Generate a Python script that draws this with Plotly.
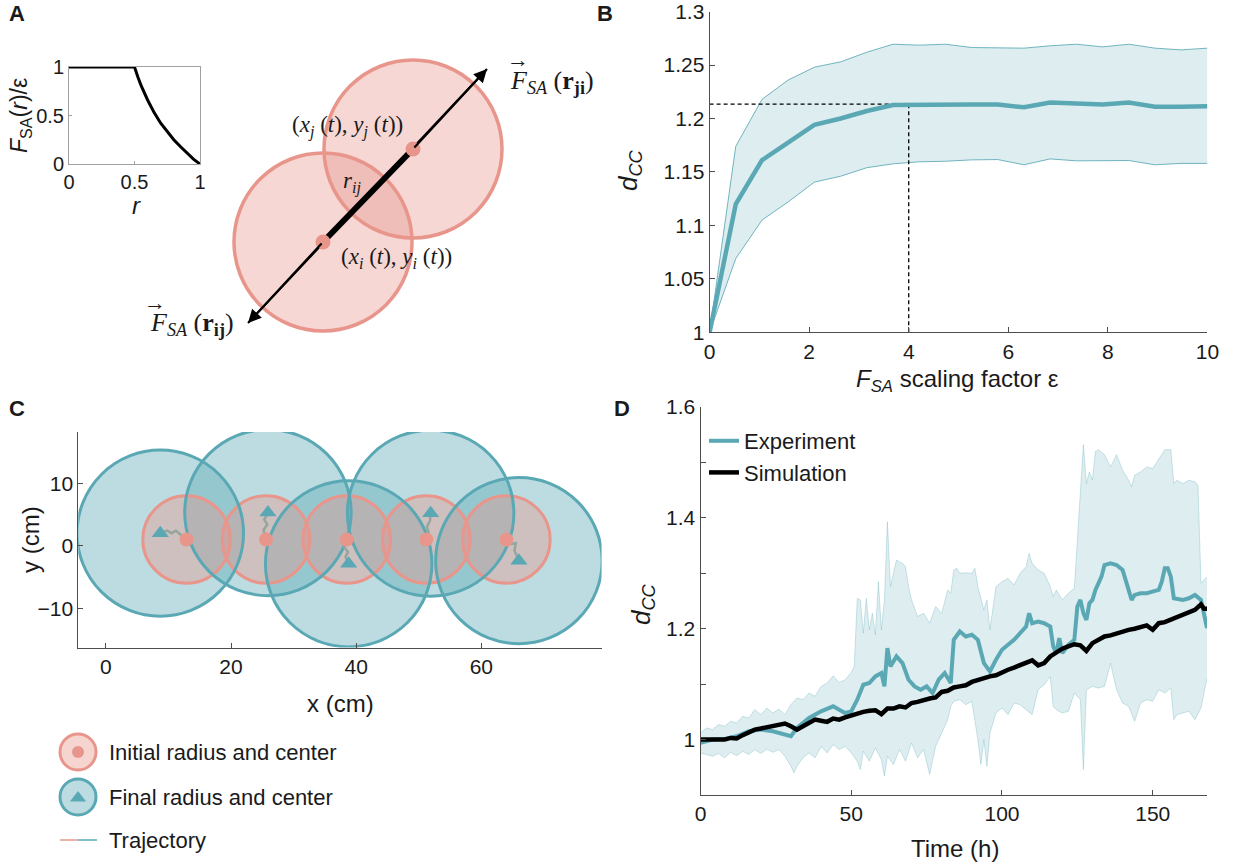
import plotly.graph_objects as go

W, H = 1236, 867
def px(x): return x / W
def py(y): return 1 - y / H

TEAL = "rgb(91,168,181)"
PINK = "rgb(232,150,140)"
TXT = "#1a1a1a"
AXC = "#4d4d4d"
SANS = "Liberation Sans, Arial, sans-serif"
SERIF = "Liberation Serif, Times New Roman, serif"

# ---------------- Panel A data ----------------
r_vals = [0, 0.5, 0.525, 0.55, 0.6, 0.65, 0.7, 0.75, 0.8, 0.85, 0.9, 0.95, 1.0]
F_vals = [1, 1, 0.9, 0.81, 0.66, 0.53, 0.42, 0.33, 0.25, 0.18, 0.11, 0.05, 0]
# schematic (diagram units)
cell_cx_A = [323, 413]
cell_cy_A = [242, 149]
cell_r_A = 89
arrow_x_A = [248, 487]
arrow_y_A = [323, 69]

# ---------------- Panel B data ----------------
eps = [0, 0.526, 1.053, 1.579, 2.105, 2.632, 3.158, 3.684, 4.211, 4.737,
       5.263, 5.789, 6.316, 6.842, 7.368, 7.895, 8.421, 8.947, 9.474, 10]
dcc_mean = [1.0, 1.120, 1.161, 1.178, 1.194, 1.200, 1.207, 1.2126, 1.213, 1.2135,
            1.213, 1.213, 1.2105, 1.215, 1.2145, 1.213, 1.215, 1.211, 1.211, 1.2115]
dcc_upper = [1.0, 1.174, 1.218, 1.236, 1.248, 1.253, 1.262, 1.2695, 1.2686, 1.2695,
             1.2664, 1.2658, 1.2658, 1.268, 1.2695, 1.267, 1.2695, 1.2658, 1.2642, 1.2658]
dcc_lower = [1.0, 1.069, 1.105, 1.122, 1.1405, 1.146, 1.154, 1.1576, 1.1595, 1.160,
             1.1613, 1.1616, 1.1567, 1.1622, 1.1604, 1.1604, 1.1607, 1.1567, 1.158, 1.158]
eps_opt = 4
dcc_opt = 1.2135
B_xticks = [0, 2, 4, 6, 8, 10]
B_yticks = [1, 1.05, 1.1, 1.15, 1.2, 1.25, 1.3]
B_yticktext = ["1", "1.05", "1.1", "1.15", "1.2", "1.25", "1.3"]

# ---------------- Panel C data ----------------
init_x = [12.9, 25.6, 38.5, 51.2, 64.0]
init_y = [1.0, 1.0, 1.0, 1.0, 1.0]
init_r = 7.0
final_x = [8.7, 25.9, 38.8, 51.9, 66.0]
final_y = [2.0, 5.3, -2.9, 5.2, -2.4]
final_r = 13.3
traj_x = [[12.9, 12.0, 11.2, 10.5, 9.8, 8.7],
          [25.6, 25.2, 25.8, 25.3, 25.7, 25.9],
          [38.5, 38.1, 38.7, 38.3, 38.8],
          [51.2, 51.6, 51.3, 51.8, 51.9],
          [64.0, 64.8, 65.5, 65.3, 66.0]]
traj_y = [[1.0, 1.8, 2.4, 2.0, 2.4, 2.0],
          [1.0, 2.5, 3.4, 4.2, 4.8, 5.3],
          [1.0, -0.3, -1.0, -1.8, -2.9],
          [1.0, 2.0, 3.0, 4.0, 5.2],
          [1.0, 0.3, 0.4, -0.8, -2.4]]
C_xticks = [0, 20, 40, 60]
C_yticks = [-10, 0, 10]

# ---------------- Panel D data ----------------
t_sim = [0, 2, 4, 6, 8, 10, 12, 14, 16, 18, 20, 22, 24, 26, 28, 30, 32, 34, 36, 38,
         40, 42, 44, 46, 48, 50, 52, 54, 56, 58, 60, 62, 64, 66, 68, 70, 72, 74, 76, 78,
         80, 82, 84, 86, 88, 90, 92, 94, 96, 98, 100, 102, 104, 106, 108, 110, 112, 114,
         116, 118, 120, 122, 124, 126, 128, 130, 132, 134, 136, 138, 140, 142, 144, 146,
         148, 150, 152, 154, 156, 158, 160, 162, 164, 166, 167, 168]
d_sim = [1.000, 1.000, 1.001, 1.002, 1.000, 1.003, 1.002, 1.008, 1.014, 1.018, 1.020,
         1.022, 1.023, 1.027, 1.029, 1.024, 1.018, 1.024, 1.030, 1.036, 1.034, 1.032,
         1.038, 1.036, 1.040, 1.044, 1.046, 1.050, 1.052, 1.053, 1.046, 1.056, 1.056,
         1.060, 1.058, 1.066, 1.068, 1.072, 1.074, 1.076, 1.086, 1.088, 1.094, 1.096,
         1.098, 1.104, 1.108, 1.110, 1.114, 1.116, 1.122, 1.126, 1.130, 1.134, 1.138,
         1.143, 1.134, 1.138, 1.150, 1.158, 1.164, 1.168, 1.172, 1.170, 1.160, 1.174,
         1.180, 1.186, 1.188, 1.192, 1.196, 1.198, 1.200, 1.204, 1.206, 1.198, 1.210,
         1.212, 1.216, 1.220, 1.224, 1.228, 1.234, 1.244, 1.236, 1.236]

t_exp = [0, 4, 8, 12, 16, 20, 24, 28, 30, 32, 34, 36, 40, 44, 46, 48, 50, 52, 54, 56,
         58, 60, 61, 62, 63, 65, 67, 69, 71, 73, 75, 77, 79, 81, 83, 84, 86, 88, 90, 92,
         94, 96, 98, 100, 102, 104, 106, 108, 109, 110, 112, 114, 116, 117, 118, 119, 120,
         122, 124, 125, 126, 127, 128, 129, 130, 131, 133, 134, 136, 138, 140, 141, 142,
         143, 144, 146, 148, 150, 152, 153, 154, 155, 156, 157, 160, 162, 164, 166, 167, 168]
d_exp = [0.994, 1.000, 1.001, 1.006, 1.015, 1.018, 1.015, 1.009, 1.006, 1.021, 1.031,
         1.039, 1.051, 1.060, 1.054, 1.048, 1.051, 1.072, 1.099, 1.102, 1.114, 1.120,
         1.096, 1.165, 1.132, 1.150, 1.138, 1.108, 1.096, 1.090, 1.096, 1.084, 1.108,
         1.120, 1.102, 1.180, 1.195, 1.186, 1.189, 1.180, 1.138, 1.123, 1.144, 1.162,
         1.171, 1.180, 1.192, 1.204, 1.228, 1.210, 1.213, 1.210, 1.204, 1.168, 1.156,
         1.183, 1.156, 1.171, 1.180, 1.240, 1.252, 1.228, 1.216, 1.246, 1.252, 1.270,
         1.294, 1.315, 1.318, 1.315, 1.306, 1.288, 1.270, 1.252, 1.261, 1.264, 1.264,
         1.267, 1.270, 1.285, 1.309, 1.309, 1.294, 1.255, 1.252, 1.255, 1.261, 1.252,
         1.222, 1.201]

t_up = [0, 2, 4, 6, 8, 10, 12, 14, 16, 18, 20, 22, 24, 26, 28, 30, 32, 34, 36, 38, 40,
        42, 44, 46, 48, 50, 51, 52, 53, 54, 55, 56, 57, 58, 59, 60, 61, 62, 63, 64, 65,
        66, 67, 68, 69, 70, 72, 74, 76, 78, 80, 82, 83, 84, 85, 86, 88, 90, 91, 92, 94,
        95, 96, 98, 100, 102, 104, 106, 108, 109, 110, 112, 114, 116, 117, 118, 120, 122,
        124, 125, 126, 127, 128, 129, 130, 131, 132, 134, 136, 138, 140, 142, 143, 144,
        146, 148, 150, 152, 154, 156, 157, 158, 160, 162, 164, 165, 166, 167, 168]
d_up = [1.012, 1.021, 1.018, 1.027, 1.024, 1.033, 1.030, 1.042, 1.039, 1.054, 1.045,
        1.057, 1.048, 1.055, 1.045, 1.063, 1.075, 1.072, 1.084, 1.078, 1.096, 1.102,
        1.115, 1.103, 1.108, 1.121, 1.132, 1.255, 1.252, 1.192, 1.255, 1.198, 1.228,
        1.189, 1.285, 1.198, 1.252, 1.393, 1.276, 1.300, 1.324, 1.321, 1.318, 1.312,
        1.276, 1.252, 1.222, 1.228, 1.210, 1.240, 1.228, 1.270, 1.264, 1.306, 1.309,
        1.300, 1.301, 1.300, 1.309, 1.276, 1.234, 1.252, 1.198, 1.276, 1.285, 1.291,
        1.279, 1.300, 1.312, 1.336, 1.318, 1.306, 1.300, 1.276, 1.258, 1.270, 1.252,
        1.264, 1.273, 1.360, 1.450, 1.532, 1.462, 1.483, 1.468, 1.520, 1.523, 1.514,
        1.492, 1.514, 1.486, 1.468, 1.456, 1.477, 1.483, 1.492, 1.489, 1.505, 1.523,
        1.523, 1.462, 1.468, 1.462, 1.468, 1.465, 1.459, 1.282, 1.288, 1.294]

t_lo = [0, 2, 4, 6, 8, 10, 12, 14, 16, 18, 20, 22, 24, 26, 28, 30, 31, 32, 34, 36, 38,
        40, 42, 44, 46, 48, 50, 52, 53, 54, 56, 58, 60, 61, 62, 64, 66, 68, 70, 72, 74,
        76, 77, 78, 80, 82, 83, 84, 86, 88, 90, 92, 93, 94, 95, 96, 98, 100, 102, 104,
        106, 108, 110, 112, 114, 116, 117, 118, 120, 122, 124, 126, 127, 128, 130, 132,
        134, 136, 138, 140, 142, 144, 146, 148, 150, 152, 154, 156, 157, 158, 160, 162,
        164, 166, 167, 168]
d_lo = [0.976, 0.973, 0.970, 0.975, 0.967, 0.977, 0.971, 0.979, 0.973, 0.982, 0.975,
        0.983, 0.977, 0.982, 0.970, 0.952, 0.940, 0.952, 0.967, 0.976, 0.967, 0.988,
        0.976, 0.991, 0.982, 0.988, 0.976, 0.961, 0.946, 0.979, 0.961, 0.985, 0.964,
        0.934, 0.970, 0.955, 0.982, 0.961, 0.994, 0.967, 0.982, 0.937, 0.964, 0.988,
        1.012, 1.036, 1.060, 1.069, 1.072, 1.063, 1.069, 1.000, 0.955, 1.000, 0.952,
        1.012, 1.048, 1.057, 1.045, 1.066, 1.063, 1.054, 1.045, 1.090, 1.099, 1.114,
        1.060, 1.054, 1.048, 1.051, 1.084, 1.072, 0.946, 1.090, 1.096, 1.093, 1.096,
        1.138, 1.090, 1.066, 1.060, 1.033, 1.066, 1.072, 1.069, 1.090, 1.084, 1.093,
        1.036, 1.045, 1.048, 1.051, 1.036, 1.057, 1.084, 1.111]
D_xticks = [0, 50, 100, 150]
D_yticks = [1.0, 1.1, 1.2, 1.3, 1.4, 1.5, 1.6]
D_yticktext = ["1", " ", "1.2", " ", "1.4", " ", "1.6"]

# ---------------- Figure ----------------
fig = go.Figure()

# Panel A inset
fig.add_trace(go.Scatter(x=r_vals, y=F_vals, mode="lines", line=dict(color="black", width=3),
                         xaxis="x", yaxis="y", showlegend=False, hoverinfo="skip", cliponaxis=False))

# Panel A diagram: line + dots
fig.add_trace(go.Scatter(x=arrow_x_A, y=arrow_y_A, mode="lines", line=dict(color="black", width=2),
                         xaxis="x2", yaxis="y2", showlegend=False, hoverinfo="skip"))
fig.add_trace(go.Scatter(x=cell_cx_A, y=cell_cy_A, mode="lines", line=dict(color="black", width=6),
                         xaxis="x2", yaxis="y2", showlegend=False, hoverinfo="skip"))
fig.add_trace(go.Scatter(x=cell_cx_A, y=cell_cy_A, mode="markers", marker=dict(color=PINK, size=15),
                         xaxis="x2", yaxis="y2", showlegend=False, hoverinfo="skip"))

shapes = []
for cx, cy in zip(cell_cx_A, cell_cy_A):
    shapes.append(dict(type="circle", xref="x2", yref="y2", x0=cx - cell_r_A, x1=cx + cell_r_A,
                       y0=cy - cell_r_A, y1=cy + cell_r_A, fillcolor="rgba(232,150,140,0.38)",
                       line=dict(color=PINK, width=3.5), layer="below"))

# Panel B
fig.add_trace(go.Scatter(x=eps + eps[::-1], y=dcc_upper + dcc_lower[::-1], fill="toself",
                         fillcolor="rgba(91,168,181,0.2)", line=dict(width=0), mode="lines",
                         xaxis="x3", yaxis="y3", showlegend=False, hoverinfo="skip"))
for arr in (dcc_upper, dcc_lower):
    fig.add_trace(go.Scatter(x=eps, y=arr, mode="lines", line=dict(color="rgba(91,168,181,0.85)", width=1),
                             xaxis="x3", yaxis="y3", showlegend=False, hoverinfo="skip"))
fig.add_trace(go.Scatter(x=[0, eps_opt], y=[dcc_opt, dcc_opt], mode="lines",
                         line=dict(color="black", width=1.3, dash="4px,3px"),
                         xaxis="x3", yaxis="y3", showlegend=False, hoverinfo="skip"))
fig.add_trace(go.Scatter(x=[eps_opt, eps_opt], y=[1.0, dcc_opt], mode="lines",
                         line=dict(color="black", width=1.3, dash="4px,3px"),
                         xaxis="x3", yaxis="y3", showlegend=False, hoverinfo="skip"))
fig.add_trace(go.Scatter(x=eps, y=dcc_mean, mode="lines", line=dict(color=TEAL, width=4.5),
                         xaxis="x3", yaxis="y3", showlegend=False, hoverinfo="skip"))

# Panel C circles (shapes in data coordinates)
for cx, cy in zip(final_x, final_y):
    shapes.append(dict(type="circle", xref="x4", yref="y4", x0=cx - final_r, x1=cx + final_r,
                       y0=cy - final_r, y1=cy + final_r, fillcolor="rgba(91,168,181,0.4)",
                       line=dict(width=0), layer="below"))
for cx, cy in zip(init_x, init_y):
    shapes.append(dict(type="circle", xref="x4", yref="y4", x0=cx - init_r, x1=cx + init_r,
                       y0=cy - init_r, y1=cy + init_r, fillcolor="rgba(232,150,140,0.4)",
                       line=dict(width=0), layer="below"))
for cx, cy in zip(init_x, init_y):
    shapes.append(dict(type="circle", xref="x4", yref="y4", x0=cx - init_r, x1=cx + init_r,
                       y0=cy - init_r, y1=cy + init_r, fillcolor="rgba(0,0,0,0)",
                       line=dict(color=PINK, width=3), layer="below"))
for cx, cy in zip(final_x, final_y):
    shapes.append(dict(type="circle", xref="x4", yref="y4", x0=cx - final_r, x1=cx + final_r,
                       y0=cy - final_r, y1=cy + final_r, fillcolor="rgba(0,0,0,0)",
                       line=dict(color=TEAL, width=3), layer="below"))

for tx, ty in zip(traj_x, traj_y):
    fig.add_trace(go.Scatter(x=tx, y=ty, mode="lines", line=dict(color="rgb(150,165,158)", width=2.5),
                             xaxis="x4", yaxis="y4", showlegend=False, hoverinfo="skip"))
fig.add_trace(go.Scatter(x=init_x, y=init_y, mode="markers", marker=dict(color=PINK, size=14),
                         xaxis="x4", yaxis="y4", showlegend=False, hoverinfo="skip"))
fig.add_trace(go.Scatter(x=final_x, y=final_y, mode="markers",
                         marker=dict(color=TEAL, size=15, symbol="triangle-up"),
                         xaxis="x4", yaxis="y4", showlegend=False, hoverinfo="skip"))

# Panel C legend (own little axis, pixel units)
leg_y = [752, 797, 840]
fig.add_trace(go.Scatter(x=[78, 78], y=leg_y[:2], mode="markers",
                         marker=dict(size=36, color=["rgba(232,150,140,0.4)", "rgba(91,168,181,0.4)"],
                                     line=dict(color=[PINK, TEAL], width=3)),
                         xaxis="x6", yaxis="y6", showlegend=False, hoverinfo="skip"))
fig.add_trace(go.Scatter(x=[78], y=[leg_y[0]], mode="markers", marker=dict(size=12, color=PINK),
                         xaxis="x6", yaxis="y6", showlegend=False, hoverinfo="skip"))
fig.add_trace(go.Scatter(x=[78], y=[leg_y[1] + 1], mode="markers",
                         marker=dict(size=14, color=TEAL, symbol="triangle-up"),
                         xaxis="x6", yaxis="y6", showlegend=False, hoverinfo="skip"))
fig.add_trace(go.Scatter(x=[60, 78], y=[leg_y[2], leg_y[2]], mode="lines", line=dict(color=PINK, width=1.5),
                         xaxis="x6", yaxis="y6", showlegend=False, hoverinfo="skip"))
fig.add_trace(go.Scatter(x=[78, 97], y=[leg_y[2], leg_y[2]], mode="lines", line=dict(color=TEAL, width=1.5),
                         xaxis="x6", yaxis="y6", showlegend=False, hoverinfo="skip"))

# Panel D
fig.add_trace(go.Scatter(x=t_up + t_lo[::-1], y=d_up + d_lo[::-1], fill="toself",
                         fillcolor="rgba(91,168,181,0.2)", line=dict(width=0), mode="lines",
                         xaxis="x5", yaxis="y5", showlegend=False, hoverinfo="skip"))
fig.add_trace(go.Scatter(x=t_up, y=d_up, mode="lines", line=dict(color="rgba(91,168,181,0.3)", width=1),
                         xaxis="x5", yaxis="y5", showlegend=False, hoverinfo="skip"))
fig.add_trace(go.Scatter(x=t_lo, y=d_lo, mode="lines", line=dict(color="rgba(91,168,181,0.3)", width=1),
                         xaxis="x5", yaxis="y5", showlegend=False, hoverinfo="skip"))
fig.add_trace(go.Scatter(x=t_exp, y=d_exp, mode="lines", name="Experiment", line=dict(color=TEAL, width=4),
                         xaxis="x5", yaxis="y5", showlegend=True, hoverinfo="skip"))
fig.add_trace(go.Scatter(x=t_sim, y=d_sim, mode="lines", name="Simulation", line=dict(color="black", width=4.5),
                         xaxis="x5", yaxis="y5", showlegend=True, hoverinfo="skip"))

def axstyle(**kw):
    d = dict(showline=True, linecolor=AXC, linewidth=1, ticks="inside", ticklen=5, tickcolor=AXC,
             tickfont=dict(size=21, color=TXT, family=SANS), showgrid=False, zeroline=False,
             fixedrange=True, ticklabeloverflow="allow")
    d.update(kw)
    return d

hidden = dict(visible=False, showgrid=False, zeroline=False, fixedrange=True)

layout = dict(
    width=W, height=H, margin=dict(l=0, r=0, t=0, b=0, autoexpand=False),
    paper_bgcolor="white", plot_bgcolor="rgba(0,0,0,0)",
    font=dict(family=SANS, color=TXT),
    # A inset
    xaxis=axstyle(domain=[px(69), px(200)], range=[0, 1], tickvals=[0, 0.5, 1], ticktext=["0", "0.5", "1"],
                  anchor="y", mirror=True, linecolor="#a0a0a0", tickcolor="#a0a0a0", ticklen=3,
                  tickfont=dict(size=20, color=TXT, family=SANS)),
    yaxis=axstyle(domain=[py(164), py(67)], range=[0, 1], tickvals=[0, 0.5, 1], ticktext=["0", "0.5", "1"],
                  anchor="x", mirror=True, linecolor="#a0a0a0", tickcolor="#a0a0a0", ticklen=3,
                  tickfont=dict(size=20, color=TXT, family=SANS)),
    # A diagram
    xaxis2=dict(hidden, domain=[px(130), px(620)], range=[130, 620], anchor="y2"),
    yaxis2=dict(hidden, domain=[py(350), py(30)], range=[350, 30], anchor="x2"),
    # B
    xaxis3=axstyle(domain=[px(709.6), px(1207.4)], range=[0, 10], tickvals=B_xticks, anchor="y3"),
    yaxis3=axstyle(domain=[py(332.3), py(11.5)], range=[1, 1.3001], tickvals=B_yticks, ticktext=B_yticktext,
                   anchor="x3"),
    # C
    xaxis4=axstyle(domain=[px(78.3), px(601.5)], range=[-4.4, 79.2], tickvals=C_xticks, anchor="y4"),
    yaxis4=axstyle(domain=[py(647.5), py(432)], range=[-16.3, 18.2], tickvals=C_yticks, anchor="x4"),
    # D
    xaxis5=axstyle(domain=[px(700.5), px(1207)], range=[0, 168], tickvals=D_xticks, anchor="y5"),
    yaxis5=axstyle(domain=[py(795), py(407)], range=[0.9, 1.6001], tickvals=D_yticks, ticktext=D_yticktext,
                   anchor="x5"),
    # C legend
    xaxis6=dict(hidden, domain=[px(40), px(380)], range=[40, 380], anchor="y6"),
    yaxis6=dict(hidden, domain=[py(867), py(720)], range=[867, 720], anchor="x6"),
    showlegend=True,
    legend=dict(x=px(704), y=py(420), xanchor="left", yanchor="top", bgcolor="rgba(0,0,0,0)",
                font=dict(size=22, color=TXT, family=SANS), tracegroupgap=0, itemwidth=30),
    shapes=shapes,
)
fig.update_layout(**layout)

ann = []
def A(text, x, y, size=22, ref="paper", angle=0, family=SANS, xanchor="center"):
    if ref == "paper":
        ann.append(dict(text=text, x=px(x), y=py(y), xref="paper", yref="paper", showarrow=False,
                        font=dict(size=size, family=family, color=TXT), textangle=angle,
                        xanchor=xanchor, yanchor="middle"))
    else:
        ann.append(dict(text=text, x=x, y=y, xref="x" + ref, yref="y" + ref, showarrow=False,
                        font=dict(size=size, family=family, color=TXT), textangle=angle,
                        xanchor=xanchor, yanchor="middle"))

# panel letters
A("<b>A</b>", 17, 13, size=22)
A("<b>B</b>", 605, 13, size=22)
A("<b>C</b>", 17, 408, size=22)
A("<b>D</b>", 622, 408, size=22)

# A inset titles
A("<i>F</i><sub>SA</sub>(<i>r</i>)/ε", 20, 116, size=23, angle=-90)
A("<i>r</i>", 136, 205, size=24)

# A diagram labels
A("(<i>x<sub>j</sub></i> (<i>t</i>), <i>y<sub>j</sub></i> (<i>t</i>))", 347, 127, size=23, ref="2", family=SERIF)
A("<i>r<sub>ij</sub></i>", 352, 183, size=23, ref="2", family=SERIF)
A("(<i>x<sub>i</sub></i> (<i>t</i>), <i>y<sub>i</sub></i> (<i>t</i>))", 396, 258, size=23, ref="2", family=SERIF)
A("<i>F</i><sub><i>SA</i></sub> (<b>r</b><sub><b>ji</b></sub>)", 552, 82, size=26, ref="2", family=SERIF)
A("<i>F</i><sub><i>SA</i></sub> (<b>r</b><sub><b>ij</b></sub>)", 192, 324, size=26, ref="2", family=SERIF)
A("→", 518, 60, size=22, ref="2", family=SERIF)
A("→", 155, 302, size=22, ref="2", family=SERIF)

# arrowheads
for (tx, ty), (sx, sy) in [((arrow_x_A[1], arrow_y_A[1]), (cell_cx_A[1], cell_cy_A[1])),
                           ((arrow_x_A[0], arrow_y_A[0]), (cell_cx_A[0], cell_cy_A[0]))]:
    ann.append(dict(x=tx, y=ty, ax=sx, ay=sy, xref="x2", yref="y2", axref="x2", ayref="y2", text="",
                    showarrow=True, arrowhead=2, arrowsize=1.2, arrowwidth=2.2, arrowcolor="black"))

# B titles
A("<i>d</i><sub><i>CC</i></sub>", 630, 170, size=26, angle=-90)
A("<i>F</i><sub><i>SA</i></sub> scaling factor ε", 958, 380, size=24)

# C titles
A("y (cm)", 30, 540, size=24, angle=-90)
A("x (cm)", 340, 703, size=24)
# C legend texts
A("Initial radius and center", 107, 752, size=22, ref="6", xanchor="left")
A("Final radius and center", 107, 797, size=22, ref="6", xanchor="left")
A("Trajectory", 107, 840, size=22, ref="6", xanchor="left")

# D titles
A("<i>d</i><sub><i>CC</i></sub>", 642, 604, size=26, angle=-90)
A("Time (h)", 955, 848, size=24)

fig.update_layout(annotations=ann)
fig.write_html("out.html", config={"displayModeBar": False, "staticPlot": True},
               post_script="document.body.style.margin='0px';document.body.style.overflow='hidden';")
